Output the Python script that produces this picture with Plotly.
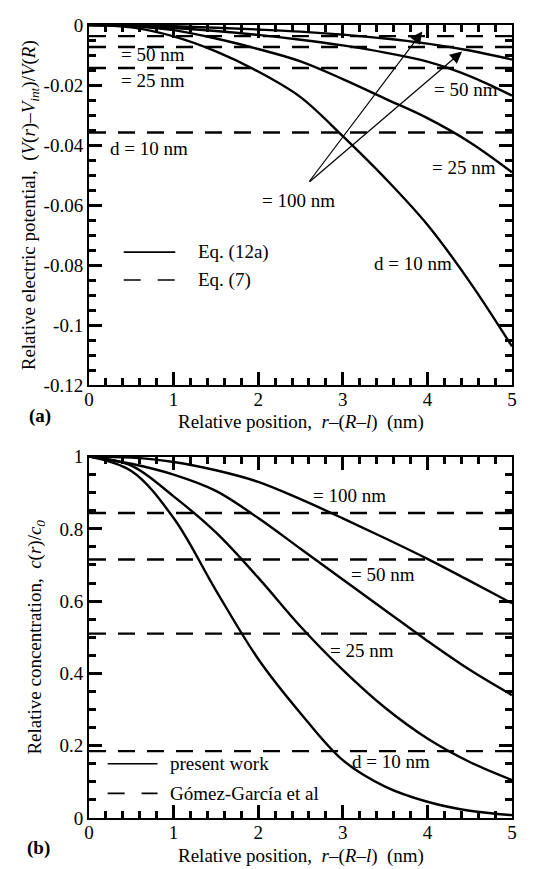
import plotly.graph_objects as go

# ---------------- data ----------------
x_pos = [0, 0.5, 1, 1.5, 2, 2.5, 3, 3.5, 4, 4.5, 5]

# (a) relative electric potential, Eq. (12a)
pot_d10 = [0, -0.0008, -0.0038, -0.0088, -0.0155, -0.0240, -0.0370, -0.0510, -0.0665, -0.0855, -0.107]
pot_d25 = [0, -0.0004, -0.0017, -0.0045, -0.0080, -0.0121, -0.0180, -0.0245, -0.0310, -0.0390, -0.0490]
pot_d50 = [0, -0.0002, -0.0010, -0.0020, -0.0033, -0.0049, -0.0068, -0.0092, -0.0122, -0.0170, -0.0235]
pot_d100 = [0, -0.0001, -0.0004, -0.0009, -0.0015, -0.0022, -0.0032, -0.0045, -0.0062, -0.0085, -0.0115]
# (a) Eq. (7) constant levels for d = 10, 25, 50, 100 nm
pot_eq7 = [-0.0358, -0.0143, -0.0073, -0.0037]

# (b) relative concentration, present work
conc_d10 = [1, 0.96, 0.83, 0.63, 0.44, 0.29, 0.16, 0.087, 0.045, 0.02, 0.008]
conc_d25 = [1, 0.975, 0.89, 0.79, 0.665, 0.53, 0.41, 0.305, 0.22, 0.155, 0.105]
conc_d50 = [1, 0.98, 0.95, 0.905, 0.83, 0.745, 0.66, 0.575, 0.49, 0.41, 0.34]
conc_d100 = [1, 0.997, 0.985, 0.962, 0.93, 0.882, 0.829, 0.774, 0.717, 0.656, 0.594]
# (b) Gómez-García et al constant levels
conc_gg = [0.185, 0.51, 0.715, 0.844]

x_range = [0, 5]
x_ticks = [0, 1, 2, 3, 4, 5]
x_ticktext = ["0", "1", "2", "3", "4", "5"]
pot_ticks = [0, -0.02, -0.04, -0.06, -0.08, -0.1, -0.12]
pot_ticktext = ["0", "-0.02", "-0.04", "-0.06", "-0.08", "-0.1", "-0.12"]
conc_ticks = [0, 0.2, 0.4, 0.6, 0.8, 1]
conc_ticktext = ["0", "0.2", "0.4", "0.6", "0.8", "1"]

# ---------------- style ----------------
FONT = "Liberation Serif"
FS = 19
LW = 2.4
DASH = "17px,12px"
BLACK = "#000000"
NB = "\u00a0"

fig = go.Figure()

# ---- panel (a) ----
for ys in [pot_d10, pot_d25, pot_d50, pot_d100]:
    fig.add_trace(go.Scatter(x=x_pos, y=ys, mode="lines", xaxis="x", yaxis="y",
                             line=dict(color=BLACK, width=LW, shape="spline"),
                             name="Eq. (12a)", showlegend=False))
for v in pot_eq7:
    fig.add_trace(go.Scatter(x=x_range, y=[v, v], mode="lines", xaxis="x", yaxis="y",
                             line=dict(color=BLACK, width=LW, dash=DASH),
                             name="Eq. (7)", showlegend=False))

# ---- panel (b) ----
for ys in [conc_d10, conc_d25, conc_d50, conc_d100]:
    fig.add_trace(go.Scatter(x=x_pos, y=ys, mode="lines", xaxis="x2", yaxis="y2",
                             line=dict(color=BLACK, width=LW, shape="spline"),
                             name="present work", showlegend=False))
for v in conc_gg:
    fig.add_trace(go.Scatter(x=x_range, y=[v, v], mode="lines", xaxis="x2", yaxis="y2",
                             line=dict(color=BLACK, width=LW, dash=DASH),
                             name="Gómez-García et al", showlegend=False))

tf = dict(family=FONT, size=FS, color=BLACK)


def ax_style(tickvals, ticktext, minor_dtick, standoff=0):
    return dict(tickmode="array", tickvals=tickvals, ticktext=ticktext,
                ticks="inside", ticklen=13, tickwidth=2.5, tickcolor=BLACK,
                ticklabelstandoff=standoff, layer="above traces",
                showline=True, linewidth=2, linecolor=BLACK, mirror="allticks",
                showgrid=False, zeroline=False, tickfont=tf,
                minor=dict(tickmode="linear", dtick=minor_dtick, tick0=0, ticks="inside",
                           ticklen=7, tickwidth=2.5, tickcolor=BLACK, showgrid=False))


# plot areas: panel (a) 15..380 px, panel (b) 452..818 px (page has an 8 px body margin)
dom_a = [1 - 365 / 803, 1]
dom_b = [0, 366 / 803]

fig.update_layout(
    width=545, height=861,
    margin=dict(l=81, r=41, t=7, b=51),
    paper_bgcolor="white", plot_bgcolor="white",
    font=tf, showlegend=False,
    xaxis=dict(domain=[0, 1], anchor="y", range=x_range, **ax_style(x_ticks, x_ticktext, 0.2, -4)),
    yaxis=dict(domain=dom_a, anchor="x", range=[-0.12, 0],
               title=dict(text=f"Relative electric potential,{NB}{NB}(<i>V</i>(<i>r</i>)–<i>V<sub>int</sub></i>)/<i>V</i>(<i>R</i>)",
                          font=tf, standoff=3),
               **ax_style(pot_ticks, pot_ticktext, 0.005)),
    xaxis2=dict(domain=[0, 1], anchor="y2", range=x_range, **ax_style(x_ticks, x_ticktext, 0.2, -4)),
    yaxis2=dict(domain=dom_b, anchor="x2", range=[0, 1],
                title=dict(text=f"Relative concentration,{NB}{NB}<i>c</i>(<i>r</i>)/<i>c<sub>0</sub></i>",
                           font=tf, standoff=13),
                **ax_style(conc_ticks, conc_ticktext, 0.05)),
)


def py(pix):
    """paper y for a page pixel row (plot area spans rows 15..818)."""
    return 1 - (pix - 15) / 803


xtitle = f"Relative position,{NB}{NB}<i>r</i>–(<i>R</i>–<i>l</i>){NB}{NB}(nm)"
fig.add_annotation(x=0.5, y=py(417), xref="paper", yref="paper", text=xtitle,
                   showarrow=False, xanchor="center", yanchor="middle", font=tf)
fig.add_annotation(x=0.5, y=py(856), xref="paper", yref="paper", text=xtitle,
                   showarrow=False, xanchor="center", yanchor="middle", font=tf)


# ---- legends (drawn in the panels) ----
def legend_item(xref, yref, x0, x1, y, dashed, label, xt):
    fig.add_shape(type="line", xref=xref, yref=yref, x0=x0, x1=x1, y0=y, y1=y,
                  line=dict(color=BLACK, width=1.6, dash=("17px,17px" if dashed else "solid")))
    fig.add_annotation(x=xt, y=y, xref=xref, yref=yref, text=label, showarrow=False,
                       xanchor="left", yanchor="middle", font=tf)


legend_item("x", "y", 0.41, 1.02, -0.0756, False, "Eq. (12a)", 1.27)
legend_item("x", "y", 0.41, 1.02, -0.0849, True, "Eq. (7)", 1.27)
legend_item("x2", "y2", 0.22, 0.81, 0.150, False, "present work", 0.93)
legend_item("x2", "y2", 0.22, 0.81, 0.068, True, "Gómez-García et al", 0.93)

# ---- labels panel (a) ----
labels_a = [
    ("= 50 nm", 0.35, -0.0099), ("= 25 nm", 0.35, -0.0186), ("d = 10 nm", 0.23, -0.041),
    ("= 100 nm", 2.02, -0.0584), ("= 50 nm", 4.05, -0.0214), ("= 25 nm", 4.03, -0.0474),
    ("d = 10 nm", 3.34, -0.0795),
]
for t, xx, yy in labels_a:
    fig.add_annotation(x=xx, y=yy, xref="x", yref="y", text=t, showarrow=False,
                       xanchor="left", yanchor="middle", font=tf)

# arrows from "= 100 nm"
for tip in [(3.94, -0.0022), (4.41, -0.0088)]:
    fig.add_annotation(x=tip[0], y=tip[1], ax=2.59, ay=-0.0526, xref="x", yref="y",
                       axref="x", ayref="y", text="", showarrow=True, arrowhead=2,
                       arrowsize=2, arrowwidth=1.2, arrowcolor=BLACK)

# ---- labels panel (b) ----
labels_b = [
    ("= 100 nm", 2.62, 0.893), ("= 50 nm", 3.07, 0.674), ("= 25 nm", 2.83, 0.464),
    ("d = 10 nm", 3.09, 0.155),
]
for t, xx, yy in labels_b:
    fig.add_annotation(x=xx, y=yy, xref="x2", yref="y2", text=t, showarrow=False,
                       xanchor="left", yanchor="middle", font=tf)

# panel letters
fig.add_annotation(x=-0.116, y=py(411), xref="paper", yref="paper", text="<b>(a)</b>",
                   showarrow=False, xanchor="center", yanchor="middle", font=tf)
fig.add_annotation(x=-0.12, y=py(848), xref="paper", yref="paper", text="<b>(b)</b>",
                   showarrow=False, xanchor="center", yanchor="middle", font=tf)

fig.write_html("out.html")
